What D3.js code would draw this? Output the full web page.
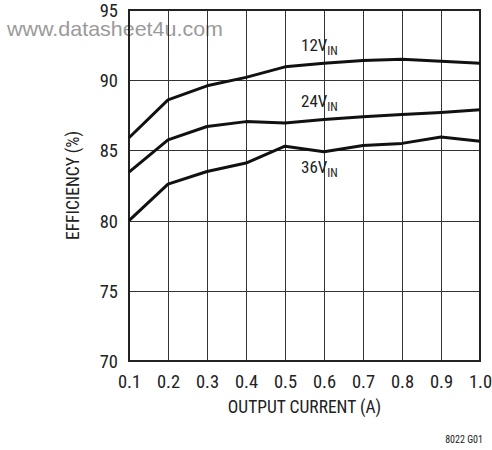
<!DOCTYPE html>
<html><head><meta charset="utf-8">
<script src="https://cdn.jsdelivr.net/npm/d3@7"></script>
<style>
body{margin:0;background:#fff;}
svg{display:block;}
.cond{font-family:"Liberation Sans Narrow","Roboto Condensed","Arial Narrow",sans-serif;}
</style></head>
<body>
<svg id="chart" width="492" height="450"></svg>
<script>
const current = [0.1,0.2,0.3,0.4,0.5,0.6,0.7,0.8,0.9,1.0];
const eff12 = [85.9,88.6,89.6,90.2,90.95,91.2,91.4,91.5,91.35,91.2];
const eff24 = [83.45,85.75,86.7,87.05,86.95,87.2,87.4,87.55,87.7,87.9];
const eff36 = [80.0,82.6,83.5,84.1,85.3,84.9,85.35,85.5,85.95,85.65];
const xTicks = [0.1,0.2,0.3,0.4,0.5,0.6,0.7,0.8,0.9,1.0];
const yTicks = [70,75,80,85,90,95];
const seriesLabels = [
  {main:"12V", sub:"IN", vals:eff12},
  {main:"24V", sub:"IN", vals:eff24},
  {main:"36V", sub:"IN", vals:eff36}
];

const svg = d3.select("#chart");
const L=129, T=10, W=351, H=351;
const x = d3.scaleLinear().domain([0.1,1.0]).range([L, L+W]);
const y = d3.scaleLinear().domain([70,95]).range([T+H, T]);

// watermark
svg.append("text").attr("x",7).attr("y",36)
  .attr("font-family","Liberation Sans, Arial, sans-serif").attr("font-size",21)
  .attr("textLength",216).attr("lengthAdjust","spacingAndGlyphs")
  .attr("fill","#9a9a9a").text("www.datasheet4u.com");

// grid
const g = svg.append("g");
g.selectAll(".vg").data(xTicks.slice(1,-1)).join("line")
  .attr("x1",d=>Math.round(x(d))+0.5).attr("x2",d=>Math.round(x(d))+0.5)
  .attr("y1",T).attr("y2",T+H).attr("stroke","#333").attr("stroke-width",1);
g.selectAll(".hg").data(yTicks.slice(1,-1)).join("line")
  .attr("y1",d=>Math.round(y(d))+0.5).attr("y2",d=>Math.round(y(d))+0.5)
  .attr("x1",L).attr("x2",L+W).attr("stroke","#333").attr("stroke-width",1);

// frame
svg.append("rect").attr("x",L).attr("y",T).attr("width",W).attr("height",H)
  .attr("fill","none").attr("stroke","#222").attr("stroke-width",2);

// axes labels via d3 axes
const xAxis = svg.append("g").attr("transform",`translate(0,${T+H})`)
  .call(d3.axisBottom(x).tickValues(xTicks).tickFormat(d3.format(".1f")).tickSize(0).tickPadding(0));
xAxis.select(".domain").remove();
xAxis.selectAll("text").attr("class","cond").attr("font-size",18.5).attr("fill","#222")
  .attr("dy",null).attr("y",26.5).attr("font-family",null);

const yAxis = svg.append("g").attr("transform",`translate(${L},0)`)
  .call(d3.axisLeft(y).tickValues(yTicks).tickFormat(d3.format("d")).tickSize(0).tickPadding(11));
yAxis.select(".domain").remove();
yAxis.selectAll("text").attr("class","cond").attr("font-size",18.5).attr("fill","#222")
  .attr("font-family",null).attr("dy","0.35em");

// axis titles
svg.append("text").attr("class","cond").attr("x",L+W/2).attr("y",412.7)
  .attr("text-anchor","middle").attr("font-size",17.5).attr("fill","#222").text("OUTPUT CURRENT (A)");
svg.append("text").attr("class","cond").attr("transform",`translate(79,${T+H/2}) rotate(-90)`)
  .attr("text-anchor","middle").attr("font-size",17.5).attr("fill","#222").text("EFFICIENCY (%)");

// footnote
svg.append("text").attr("class","cond").attr("x",483).attr("y",443.3)
  .attr("text-anchor","end").attr("font-size",10).attr("fill","#222").text("8022 G01");

// lines
const line = d3.line().x((d,i)=>x(current[i])).y(d=>y(d));
svg.selectAll(".series").data(seriesLabels).join("path")
  .attr("d",d=>line(d.vals)).attr("fill","none").attr("stroke","#111")
  .attr("stroke-width",3).attr("stroke-linejoin","round");

// series labels
const labY = [51, 106.7, 173.3];
seriesLabels.forEach((s,i)=>{
  const t = svg.append("text").attr("class","cond").attr("x",301).attr("y",labY[i])
    .attr("font-size",17).attr("fill","#222");
  t.append("tspan").text(s.main);
  t.append("tspan").attr("font-size",12).attr("dy",4).text(s.sub);
});
</script>
</body></html>
